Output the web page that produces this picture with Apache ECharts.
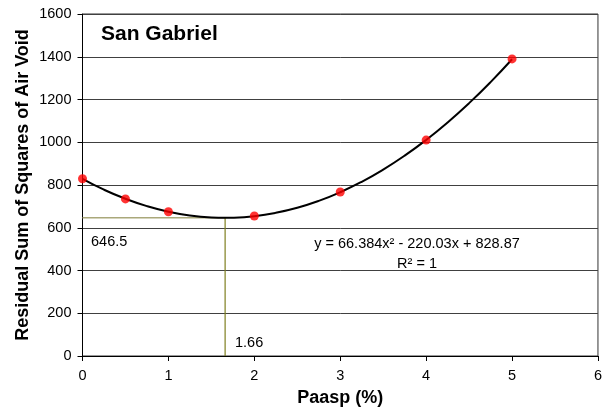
<!DOCTYPE html>
<html>
<head>
<meta charset="utf-8">
<script src="https://cdn.jsdelivr.net/npm/echarts@6/dist/echarts.min.js"></script>
<style>html,body{margin:0;padding:0;background:#fff}#c{width:605px;height:412px}</style>
</head>
<body>
<div id="c"></div>
<script>
// Measured data points
var pointsX = [0, 0.5, 1, 2, 3, 4, 5];
var pointsY = [829, 735, 675, 655, 767, 1010, 1390];
// Trendline
var curveX = [0, 0.25, 0.5, 0.75, 1, 1.25, 1.5, 1.66, 1.75, 2, 2.25, 2.5, 2.75, 3, 3.25, 3.5, 3.75, 4, 4.25, 4.5, 4.75, 5];
var curveY = [828.9, 778.0, 735.5, 701.2, 675.2, 657.6, 648.2, 646.5, 647.1, 654.3, 669.9, 693.7, 725.8, 766.2, 815.0, 872.0, 937.3, 1010.9, 1092.8, 1183.0, 1281.5, 1388.3];
// Minimum annotation
var minX = 1.66;
var minY = 646.5;
var xTicks = [0, 1, 2, 3, 4, 5, 6];
var yTicks = [0, 200, 400, 600, 800, 1000, 1200, 1400, 1600];

function zip(a, b) { return a.map(function (v, i) { return [v, b[i]]; }); }

var FONT = '"Liberation Sans", Arial, sans-serif';
var chart = echarts.init(document.getElementById('c'), null, { renderer: 'canvas' });
chart.setOption({
  animation: false,
  backgroundColor: '#fff',
  grid: { left: 82.5, right: 6, top: 14, bottom: 54, show: true, borderColor: '#333', borderWidth: 1 },
  xAxis: {
    type: 'value', min: xTicks[0], max: xTicks[xTicks.length - 1], interval: 1,
    name: 'Paasp (%)', nameLocation: 'middle', nameGap: 33, nameMoveOverlap: false,
    nameTextStyle: { fontFamily: FONT, fontWeight: 'bold', fontSize: 18, color: '#000' },
    axisLine: { lineStyle: { color: '#000', width: 1 } },
    axisTick: { show: true, inside: false, length: 5, lineStyle: { color: '#000' } },
    axisLabel: { fontFamily: FONT, fontSize: 14.5, color: '#000', margin: 12, formatter: function (v) { return String(v); } },
    splitLine: { show: false }
  },
  yAxis: {
    type: 'value', min: yTicks[0], max: yTicks[yTicks.length - 1], interval: 200,
    name: 'Residual Sum of Squares of Air Void', nameLocation: 'middle', nameGap: 50, nameMoveOverlap: false,
    nameTextStyle: { fontFamily: FONT, fontWeight: 'bold', fontSize: 18, color: '#000' },
    axisLine: { show: true, lineStyle: { color: '#000', width: 1 } },
    axisTick: { show: true, inside: false, length: 5, lineStyle: { color: '#000' } },
    axisLabel: { fontFamily: FONT, fontSize: 14.5, color: '#000', margin: 11, formatter: function (v) { return String(v); } },
    splitLine: { show: true, lineStyle: { color: '#404040', width: 1 } }
  },
  series: [
    {
      type: 'line', data: [[0, minY], [minX, minY]], symbol: 'none',
      lineStyle: { color: '#aaa87a', width: 1.5 }, z: 2, silent: true
    },
    {
      type: 'line', data: [[minX, 0], [minX, minY]], symbol: 'none',
      lineStyle: { color: '#7f7f20', width: 1.2 }, z: 2, silent: true
    },
    {
      type: 'line', data: zip(curveX, curveY), symbol: 'none', smooth: true,
      lineStyle: { color: '#000', width: 2 }, z: 3
    },
    {
      type: 'scatter', data: zip(pointsX, pointsY), symbol: 'circle', symbolSize: 9,
      itemStyle: { color: '#ff0000' }, z: 4
    }
  ],
  graphic: [
    { type: 'text', left: 101, top: 24, style: { text: 'San Gabriel', font: 'bold 21px ' + FONT, fill: '#000' } },
    { type: 'text', x: 91, y: 242, style: { text: String(minY), font: '14.5px ' + FONT, fill: '#000', textVerticalAlign: 'middle' } },
    { type: 'text', x: 235, y: 343, style: { text: String(minX), font: '14.5px ' + FONT, fill: '#000', textVerticalAlign: 'middle' } },
    { type: 'text', x: 417, y: 244, style: { text: 'y = 66.384x² - 220.03x + 828.87', font: '14.5px ' + FONT, fill: '#000', textAlign: 'center', textVerticalAlign: 'middle' } },
    { type: 'text', x: 417, y: 264, style: { text: 'R² = 1', font: '14.5px ' + FONT, fill: '#000', textAlign: 'center', textVerticalAlign: 'middle' } }
  ]
});
</script>
</body>
</html>
